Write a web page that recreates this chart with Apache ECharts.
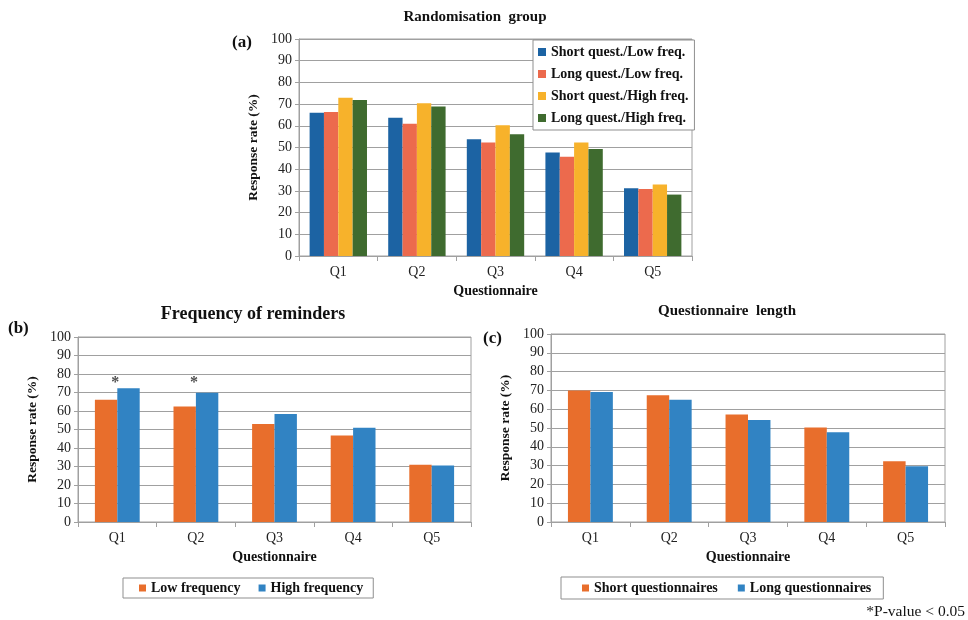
<!DOCTYPE html>
<html>
<head>
<meta charset="utf-8">
<script src="https://cdn.jsdelivr.net/npm/echarts@6/dist/echarts.min.js"></script>
<style>
  html, body { margin: 0; padding: 0; background: #fff; }
  #main { width: 968px; height: 620px; }
</style>
</head>
<body>
<div id="main"></div>
<script>
// data
const questionnaires = ["Q1", "Q2", "Q3", "Q4", "Q5"];
const groupNames = ["Short quest./Low freq.", "Long quest./Low freq.", "Short quest./High freq.", "Long quest./High freq."];
const shortLow = [66, 63.7, 53.8, 47.7, 31.2];
const longLow = [66.4, 60.9, 52.3, 45.7, 30.9];
const shortHigh = [72.9, 70.4, 60.3, 52.3, 33.0];
const longHigh = [71.9, 68.9, 56.1, 49.3, 28.3];

const lowFreq = [66.1, 62.5, 53.0, 46.7, 31.0];
const highFreq = [72.3, 69.9, 58.4, 51.0, 30.5];
const sigMarks = [["Q1", 75], ["Q2", 75]];

const shortQuest = [70.0, 67.4, 57.2, 50.2, 32.3];
const longQuest = [69.1, 65.0, 54.2, 47.7, 29.6];

const yTicks = { min: 0, max: 100, interval: 10 };

const serif = "Liberation Serif";
const gridColor = "#a0a0a0";

function yAxisFor(gridIndex) {
  return {
    type: "value",
    gridIndex: gridIndex,
    min: yTicks.min, max: yTicks.max, interval: yTicks.interval,
    name: "Response rate (%)",
    nameLocation: "middle",
    nameGap: 38,
    nameTextStyle: { fontFamily: serif, fontWeight: "bold", fontSize: 13.5, color: "#111" },
    axisLine: { show: true, lineStyle: { color: gridColor } },
    axisTick: { show: true, length: 4, lineStyle: { color: gridColor } },
    axisLabel: { fontFamily: serif, fontSize: 14, color: "#222", margin: 7 },
    splitLine: { lineStyle: { color: gridColor, width: 1 } }
  };
}

function xAxisFor(gridIndex) {
  return {
    type: "category",
    gridIndex: gridIndex,
    data: questionnaires,
    name: "Questionnaire",
    nameLocation: "middle",
    nameGap: 28,
    nameTextStyle: { fontFamily: serif, fontWeight: "bold", fontSize: 14, color: "#111" },
    axisLine: { lineStyle: { color: gridColor } },
    axisTick: { show: true, length: 5, lineStyle: { color: gridColor } },
    axisLabel: { fontFamily: serif, fontSize: 14, color: "#222", margin: 9 }
  };
}

function bar(name, data, color, idx, gap) {
  return {
    name: name, type: "bar", data: data,
    xAxisIndex: idx, yAxisIndex: idx,
    barGap: "0%", barCategoryGap: gap,
    itemStyle: { color: color },
    animation: false
  };
}

const legendText = { fontFamily: serif, fontWeight: "bold", fontSize: 14, color: "#111" };

const option = {
  animation: false,
  title: [
    { text: "Randomisation  group", left: 470, top: 5, textAlign: "center",
      textStyle: { fontFamily: serif, fontWeight: "bold", fontSize: 15, color: "#111" } },
    { text: "(a)", left: 227, top: 29,
      textStyle: { fontFamily: serif, fontWeight: "bold", fontSize: 17, color: "#111" } },
    { text: "Frequency of reminders", left: 248, top: 300, textAlign: "center",
      textStyle: { fontFamily: serif, fontWeight: "bold", fontSize: 18, color: "#111" } },
    { text: "(b)", left: 3, top: 315,
      textStyle: { fontFamily: serif, fontWeight: "bold", fontSize: 17, color: "#111" } },
    { text: "Questionnaire  length", left: 722, top: 299, textAlign: "center",
      textStyle: { fontFamily: serif, fontWeight: "bold", fontSize: 15, color: "#111" } },
    { text: "(c)", left: 478, top: 325,
      textStyle: { fontFamily: serif, fontWeight: "bold", fontSize: 17, color: "#111" } },
    { text: "*P-value < 0.05", right: -2, top: 599,
      textStyle: { fontFamily: serif, fontWeight: "normal", fontSize: 15.5, color: "#111" } }
  ],
  legend: [
    { data: groupNames, orient: "vertical", left: 533, top: 40,
      width: 159,
      icon: "rect", itemWidth: 8, itemHeight: 8, itemGap: 8,
      padding: [5, 6, 5, 5],
      borderColor: "#8f8f8f", borderWidth: 1, backgroundColor: "#fff",
      textStyle: legendText },
    { data: ["Low frequency", "High frequency"], left: 123, top: 578,
      icon: "rect", itemWidth: 7, itemHeight: 7, itemGap: 18,
      padding: [3, 10, 3, 16],
      borderColor: "#8f8f8f", borderWidth: 1,
      textStyle: legendText },
    { data: ["Short questionnaires", "Long questionnaires"], left: 561, top: 577,
      icon: "rect", itemWidth: 7, itemHeight: 7, itemGap: 20,
      padding: [4, 12, 4, 21],
      borderColor: "#8f8f8f", borderWidth: 1,
      textStyle: legendText }
  ],
  grid: [
    { left: 299, top: 39, width: 393, height: 217, show: true, borderColor: gridColor, borderWidth: 1 },
    { left: 78, top: 337, width: 393, height: 185, show: true, borderColor: gridColor, borderWidth: 1 },
    { left: 551, top: 334, width: 394, height: 188, show: true, borderColor: gridColor, borderWidth: 1 }
  ],
  xAxis: [xAxisFor(0), xAxisFor(1), xAxisFor(2)],
  yAxis: [yAxisFor(0), yAxisFor(1), yAxisFor(2)],
  series: [
    bar(groupNames[0], shortLow, "#1c63a3", 0, "27%"),
    bar(groupNames[1], longLow, "#ec6a4d", 0, "27%"),
    bar(groupNames[2], shortHigh, "#f7b22b", 0, "27%"),
    bar(groupNames[3], longHigh, "#3f6b2f", 0, "27%"),
    bar("Low frequency", lowFreq, "#e86e2c", 1, "43%"),
    bar("High frequency", highFreq, "#3183c3", 1, "43%"),
    {
      type: "scatter", xAxisIndex: 1, yAxisIndex: 1,
      data: sigMarks, symbolSize: 0, silent: true,
      label: { show: true, position: "inside", offset: [-2, 0], formatter: "*",
        fontFamily: serif, fontWeight: "bold", fontSize: 16, color: "#222" }
    },
    bar("Short questionnaires", shortQuest, "#e86e2c", 2, "43%"),
    bar("Long questionnaires", longQuest, "#3183c3", 2, "43%")
  ]
};

const chart = echarts.init(document.getElementById("main"), null, { renderer: "canvas" });
chart.setOption(option);
</script>
</body>
</html>
